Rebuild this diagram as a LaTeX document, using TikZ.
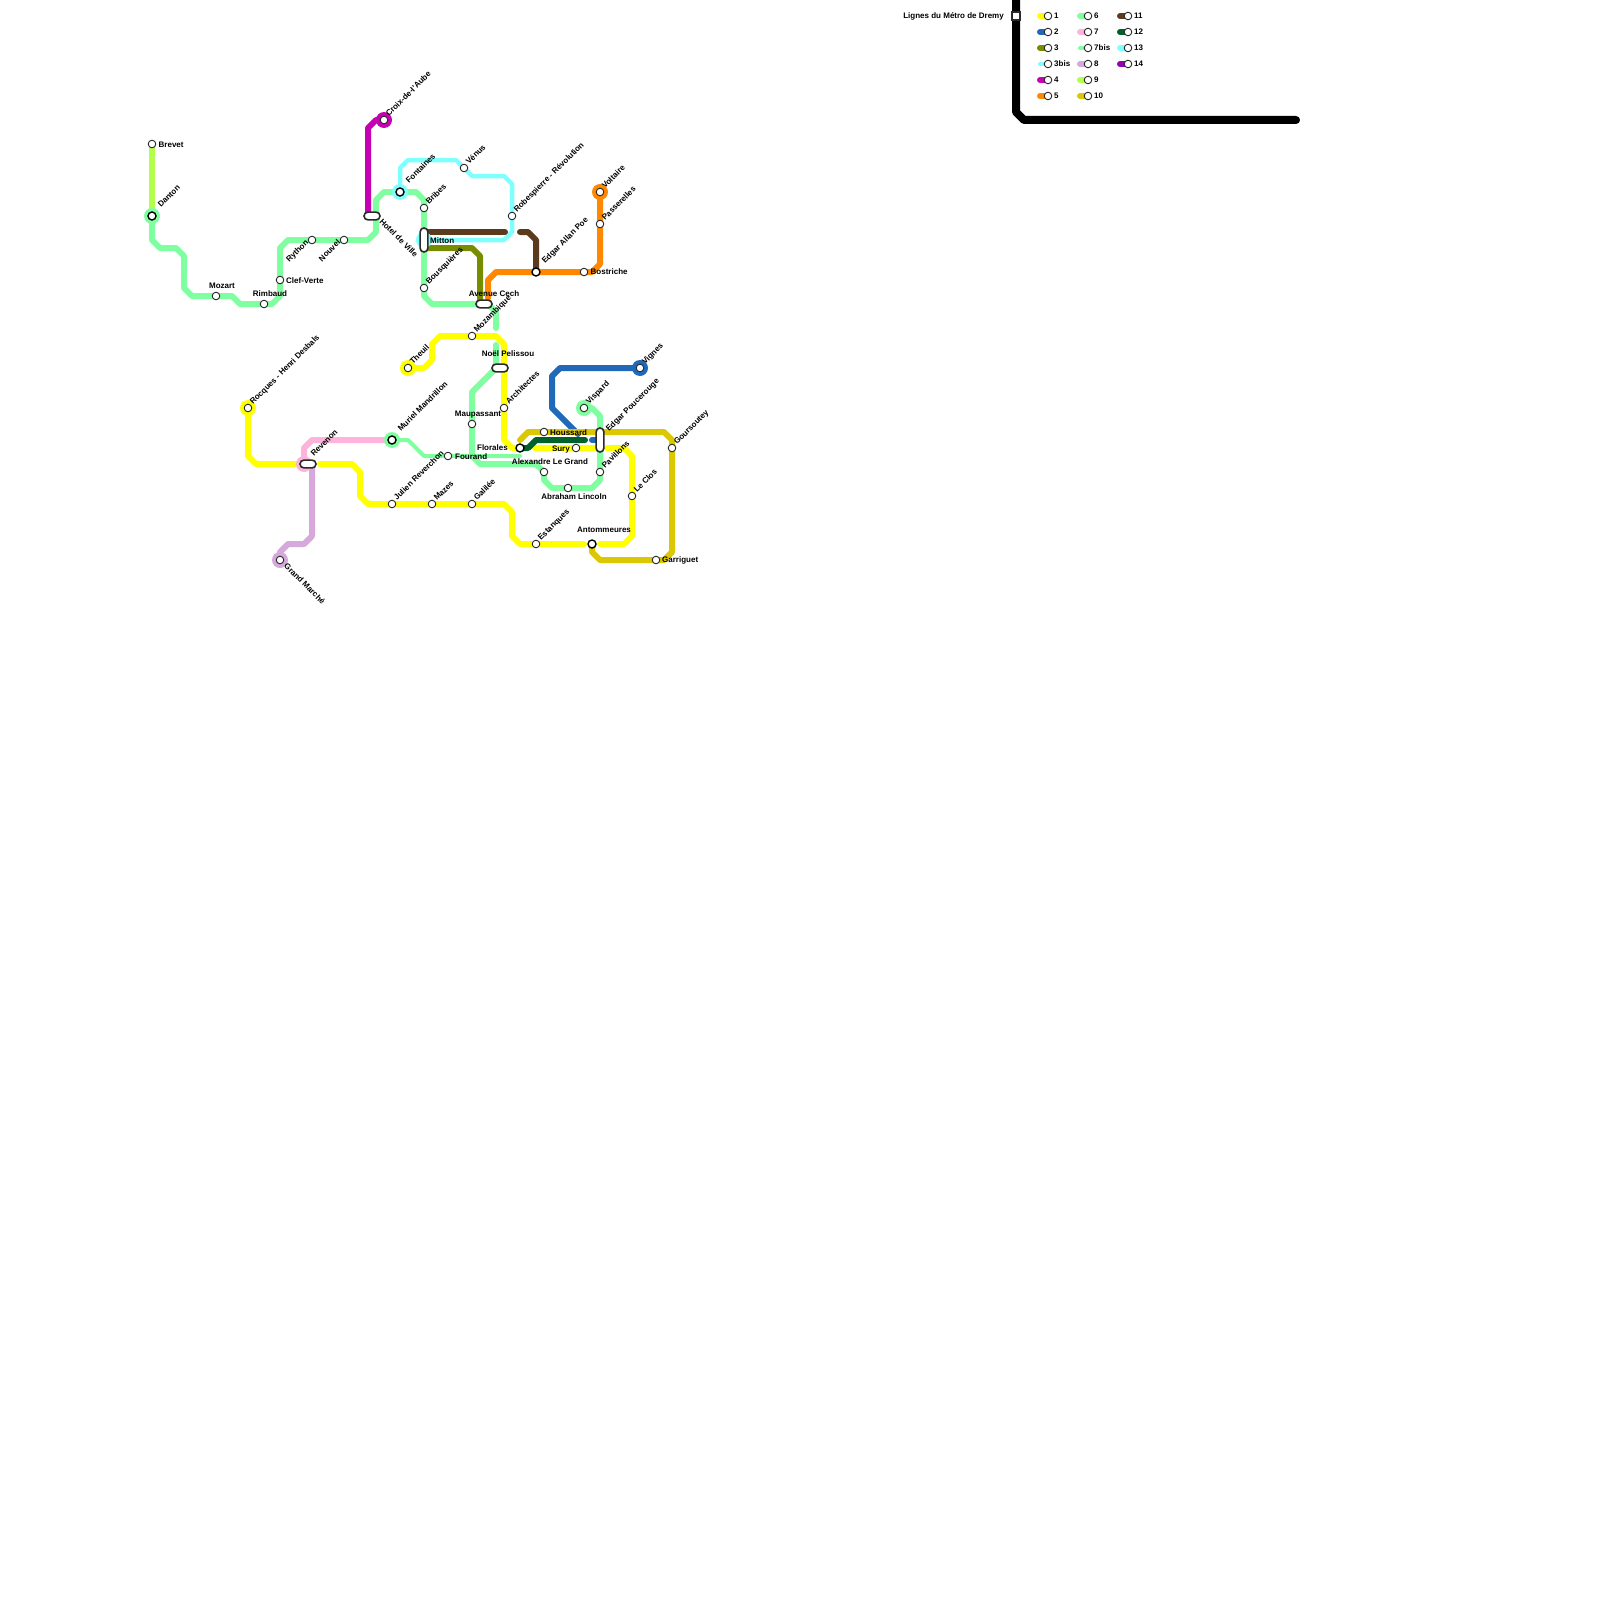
\documentclass[tikz,border=0pt]{standalone}
\usepackage{fontspec}
\setmainfont{Liberation Sans}
\pgfdeclarelayer{bg}
\pgfsetlayers{bg,main}
\definecolor{cA}{HTML}{FFFF00}
\definecolor{cB}{HTML}{1F69B8}
\definecolor{cC}{HTML}{788C00}
\definecolor{cD}{HTML}{80FFFF}
\definecolor{cE}{HTML}{C800B4}
\definecolor{cF}{HTML}{FF8800}
\definecolor{cG}{HTML}{7FFF9F}
\definecolor{cH}{HTML}{FFB3DC}
\definecolor{cI}{HTML}{D6A8DC}
\definecolor{cJ}{HTML}{B3FF4D}
\definecolor{cK}{HTML}{DCC800}
\definecolor{cL}{HTML}{5C3A1E}
\definecolor{cM}{HTML}{00602A}
\definecolor{cN}{HTML}{9000B4}
\definecolor{stk}{HTML}{2A2A2A}
\tikzset{
 st/.style={circle,draw=stk,fill=white,line width=0.9pt,minimum size=7.6pt,inner sep=0pt},
 stx/.style={circle,draw=black,fill=white,line width=1.4pt,minimum size=8pt,inner sep=0pt},
 caph/.style={rectangle,rounded corners=3.9pt,draw=stk,fill=white,line width=1.6pt,minimum width=16pt,minimum height=7.8pt,inner sep=0pt},
 capv/.style={rectangle,rounded corners=3.9pt,draw=stk,fill=white,line width=1.6pt,minimum width=7.8pt,minimum height=24pt,inner sep=0pt},
 sq/.style={rectangle,draw=stk,fill=white,line width=1.2pt,minimum size=8pt,inner sep=0pt},
 lab/.style={inner sep=0pt,font=\fontsize{8}{9.6}\selectfont\bfseries,text=black},
 lu/.style={lab,rotate=45,anchor=base west},
 ld/.style={lab,rotate=-45,anchor=base west},
 lr/.style={lab,rotate=45,anchor=base east},
 lw/.style={lab,anchor=base west},
 lc/.style={lab,anchor=base},
 le/.style={lab,anchor=base east},
 ln/.style={line width=6pt,line cap=round,line join=round},
 lnt/.style={line width=4pt,line cap=round,line join=round},
 halo/.style={circle,minimum size=16pt,inner sep=0pt},
}
\newcommand{\legitem}[5]{% x y color width text
 \node[st] (L#1#2) at (#1,#2) {};
 \begin{pgfonlayer}{bg}\draw[#3,line width=#4,line cap=round] ([xshift=-8pt]L#1#2.center) -- (L#1#2.center);\end{pgfonlayer}
 \node[lw] at ([xshift=6pt,yshift=-2.5pt]L#1#2.center) {#5};
}
\begin{document}
\begin{tikzpicture}[x=1pt,y=-1pt]
\useasboundingbox (0,0) rectangle (1600,1600);
% stations
\node[st] (brevet) at (152,144) {};
\node[stx] (danton) at (152,216) {};
\node[st] (mozart) at (216,296) {};
\node[st] (rimbaud) at (264,304) {};
\node[st] (clef) at (280,280) {};
\node[st] (rython) at (312,240) {};
\node[st] (nouvel) at (344,240) {};
\node[caph] (hotel) at (372,216) {};
\node[st] (croix) at (384,120) {};
\node[stx] (fontaines) at (400,192) {};
\node[st] (bribes) at (424,208) {};
\node[capv] (mitton) at (424,240) {};
\node[st] (bousq) at (424,288) {};
\node[st] (venus) at (464,168) {};
\node[st] (robes) at (512,216) {};
\node[st] (voltaire) at (600,192) {};
\node[st] (passer) at (600,224) {};
\node[st] (bostriche) at (584,272) {};
\node[stx] (poe) at (536,272) {};
\node[caph] (cech) at (484,304) {};
\node[st] (mozamb) at (472,336) {};
\node[st] (theuil) at (408,368) {};
\node[caph] (noel) at (500,368) {};
\node[st] (vignes) at (640,368) {};
\node[st] (rocques) at (248,408) {};
\node[caph] (revenon) at (308,464) {};
\node[stx] (muriel) at (392,440) {};
\node[st] (fourand) at (448,456) {};
\node[st] (julien) at (392,504) {};
\node[st] (mazes) at (432,504) {};
\node[st] (galilee) at (472,504) {};
\node[st] (grand) at (280,560) {};
\node[st] (maup) at (472,424) {};
\node[st] (archi) at (504,408) {};
\node[stx] (florales) at (520,448) {};
\node[st] (houssard) at (544,432) {};
\node[st] (sury) at (576,448) {};
\node[capv] (pouce) at (600,440) {};
\node[st] (visard) at (584,408) {};
\node[st] (alex) at (544,472) {};
\node[st] (abraham) at (568,488) {};
\node[st] (pavillons) at (600,472) {};
\node[st] (clos) at (632,496) {};
\node[st] (estanques) at (536,544) {};
\node[stx] (antomm) at (592,544) {};
\node[st] (garriguet) at (656,560) {};
\node[st] (gours) at (672,448) {};
\node[sq] (titre) at (1016,16) {};
% free ends
\coordinate (g1) at (496,328); \coordinate (g2) at (496,345);
\coordinate (g3) at (520,456);
\coordinate (b1) at (578,434); \coordinate (b2) at (592,440);
\coordinate (m1) at (505,232); \coordinate (m2) at (520,232);
\coordinate (y1) at (516,448); \coordinate (y2) at (535,448); \coordinate (y3) at (595,448);
\coordinate (y4) at (607,448); \coordinate (y5) at (600,544); \coordinate (y6) at (584,544);
\coordinate (y7) at (320,464); \coordinate (y8) at (300,464);
\coordinate (d1) at (520,440); \coordinate (dk) at (585,440);
\coordinate (o1) at (488,298);
\coordinate (blk1) at (1016,-8); \coordinate (blk2) at (1296,120);
\begin{pgfonlayer}{bg}
% line 6 and 7bis
\draw[ln,cG] (danton.center) -- (152,240) -- (160,248) -- (176,248) -- (184,256) -- (184,288) -- (192,296) -- (232,296) -- (240,304) -- (272,304) -- (280,296) -- (280,248) -- (288,240) -- (368,240) -- (376,232) -- (376,200) -- (384,192) -- (416,192) -- (424,200) -- (424,296) -- (432,304) -- (cech.center) -- (488,304) -- (496,312) -- (g1);
\draw[ln,cG] (g2) -- (496,368) -- (472,392) -- (472,456) -- (480,464) -- (536,464) -- (544,472) -- (544,480) -- (552,488) -- (592,488) -- (600,480) -- (600,416) -- (592,408) -- (visard.center);
\draw[lnt,cG] (muriel.center) -- (408,440) -- (424,456) -- (g3);
% line 9
\draw[ln,cJ] (brevet.center) -- (danton.center);
% line 13
\draw[lnt,cD,line width=4.5pt] (fontaines.center) -- (400,168) -- (408,160) -- (456,160) -- (464,168) -- (472,176) -- (504,176) -- (512,184) -- (512,232) -- (504,240) -- (mitton.center);
% line 4
\draw[ln,cE] (hotel.center) ++(-4,0) -- (368,128) -- (376,120) -- (croix.center);
% line 3
\draw[ln,cC] (424,248) -- (472,248) -- (480,256) -- (480,304);
% line 11
\draw[ln,cL] (424,232) -- (m1);
\draw[ln,cL] (m2) -- (528,232) -- (536,240) -- (poe.center);
% line 5
\draw[ln,cF] (o1) -- (488,280) -- (496,272) -- (592,272) -- (600,264) -- (voltaire.center);
% line 1
\draw[ln,cA] (theuil.center) -- (424,368) -- (432,360) -- (432,344) -- (440,336) -- (496,336) -- (504,344) -- (504,440) -- (512,448) -- (y1);
\draw[ln,cA] (y2) -- (y3);
\draw[ln,cA] (y4) -- (624,448) -- (632,456) -- (632,536) -- (624,544) -- (y5);
\draw[ln,cA] (y6) -- (520,544) -- (512,536) -- (512,512) -- (504,504) -- (368,504) -- (360,496) -- (360,472) -- (352,464) -- (y7);
\draw[ln,cA] (y8) -- (256,464) -- (248,456) -- (rocques.center);
% line 7
\draw[ln,cH] (muriel.center) -- (312,440) -- (304,448) -- (304,464);
% line 8
\draw[ln,cI] (312,464) -- (312,536) -- (304,544) -- (288,544) -- (280,552) -- (grand.center);
% line 2
\draw[ln,cB] (vignes.center) -- (560,368) -- (552,376) -- (552,408) -- (b1);
\draw[ln,cB] (b2) -- (pouce.center);
% line 10
\draw[ln,cK] (d1) -- (528,432) -- (664,432) -- (672,440) -- (672,552) -- (664,560) -- (600,560) -- (592,552) -- (antomm.center);
% line 12
\draw[ln,cM] (florales.center) -- (528,448) -- (536,440) -- (dk);
% frame
\draw[black,line width=8pt,line join=round,line cap=round] (blk1) -- (1016,112) -- (1024,120) -- (blk2);
% halos
\node[halo,fill=cG] at (danton.center) {};
\node[halo,fill=cE] at (croix.center) {};
\node[halo,fill=cD] at (fontaines.center) {};
\node[halo,fill=cD] at (mitton.center) {};
\node[halo,fill=cF] at (voltaire.center) {};
\node[halo,fill=cB] at (vignes.center) {};
\node[halo,fill=cA] at (theuil.center) {};
\node[halo,fill=cA] at (rocques.center) {};
\node[halo,fill=cH] at (304,464) {};
\node[halo,fill=cG] at (muriel.center) {};
\node[halo,fill=cG] at (visard.center) {};
\node[halo,fill=cI] at (grand.center) {};
\end{pgfonlayer}
% labels
\node[lw] at ([xshift=6.5pt,yshift=-3pt]brevet.center) {Brevet};
\node[lu] at ([xshift=9pt,yshift=8pt]danton.center) {Danton};
\node[lc] at ([xshift=6pt,yshift=8pt]mozart.center) {Mozart};
\node[lc] at ([xshift=6pt,yshift=8pt]rimbaud.center) {Rimbaud};
\node[lw] at ([xshift=6pt,yshift=-3pt]clef.center) {Clef-Verte};
\node[lr] at ([xshift=-3pt,yshift=-3pt]rython.center) {Rython};
\node[lr] at ([xshift=-3pt,yshift=-3pt]nouvel.center) {Nouvel};
\node[ld] at ([xshift=7pt,yshift=-6pt]hotel.center) {Hotel de Ville};
\node[lu] at ([xshift=5pt,yshift=3pt]croix.center) {Croix-de-l'Aube};
\node[lu] at ([xshift=9pt,yshift=8pt]fontaines.center) {Fontaines};
\node[lu] at ([xshift=5pt,yshift=3pt]bribes.center) {Bribes};
\node[lw] at ([xshift=6pt,yshift=-3pt]mitton.center) {Mitton};
\node[lu] at ([xshift=5pt,yshift=3pt]bousq.center) {Bousquières};
\node[lu] at ([xshift=5pt,yshift=3pt]venus.center) {Vénus};
\node[lu] at ([xshift=5pt,yshift=3pt]robes.center) {Robespierre - Révolution};
\node[lu] at ([xshift=5pt,yshift=3pt]voltaire.center) {Voltaire};
\node[lu] at ([xshift=5pt,yshift=3pt]passer.center) {Passerelles};
\node[lw] at ([xshift=6.5pt,yshift=-2.5pt]bostriche.center) {Bostriche};
\node[lu] at ([xshift=9pt,yshift=8pt]poe.center) {Edgar Allan Poe};
\node[lc] at ([xshift=10pt,yshift=8pt]cech.center) {Avenue Cech};
\node[lu] at ([xshift=5pt,yshift=3pt]mozamb.center) {Mozambique};
\node[lu] at ([xshift=5pt,yshift=3pt]theuil.center) {Theuil};
\node[lc] at ([xshift=8pt,yshift=12pt]noel.center) {Noël Pelissou};
\node[lu] at ([xshift=5pt,yshift=3pt]vignes.center) {Vignes};
\node[lu] at ([xshift=5pt,yshift=3pt]rocques.center) {Rocques - Henri Desbals};
\node[lu] at ([xshift=6pt,yshift=7pt]revenon.center) {Revenon};
\node[lu] at ([xshift=9pt,yshift=8pt]muriel.center) {Muriel Mandrillon};
\node[lw] at ([xshift=7pt,yshift=-3pt]fourand.center) {Fourand};
\node[lu] at ([xshift=5pt,yshift=3pt]julien.center) {Julien Reverchon};
\node[lu] at ([xshift=5pt,yshift=3pt]mazes.center) {Mazes};
\node[lu] at ([xshift=5pt,yshift=3pt]galilee.center) {Galilée};
\node[ld] at ([xshift=3.5pt,yshift=-6.5pt]grand.center) {Grand Marché};
\node[lc] at ([xshift=6pt,yshift=8pt]maup.center) {Maupassant};
\node[lu] at ([xshift=5pt,yshift=3pt]archi.center) {Architectes};
\node[le] at ([xshift=-12pt,yshift=-2pt]florales.center) {Florales};
\node[lw] at ([xshift=6pt,yshift=-3pt]houssard.center) {Houssard};
\node[le] at ([xshift=-6pt,yshift=-3pt]sury.center) {Sury};
\node[lu] at ([xshift=9pt,yshift=8pt]pouce.center) {Edgar Poucerouge};
\node[lu] at ([xshift=5pt,yshift=3pt]visard.center) {Vispard};
\node[lc] at ([xshift=6pt,yshift=8pt]alex.center) {Alexandre Le Grand};
\node[lc] at ([xshift=6pt,yshift=-11pt]abraham.center) {Abraham Lincoln};
\node[lu] at ([xshift=5pt,yshift=3pt]pavillons.center) {Pavillons};
\node[lu] at ([xshift=5pt,yshift=3pt]clos.center) {Le Clos};
\node[lu] at ([xshift=5pt,yshift=3pt]estanques.center) {Estanques};
\node[lc] at ([xshift=12pt,yshift=12pt]antomm.center) {Antommeures};
\node[lw] at ([xshift=6pt,yshift=-2.5pt]garriguet.center) {Garriguet};
\node[lu] at ([xshift=5pt,yshift=3pt]gours.center) {Goursoutey};
\node[le] at ([xshift=-12pt,yshift=-2.5pt]titre.center) {Lignes du Métro de Dremy};
% legend
\legitem{1048}{16}{cA}{6pt}{1}
\legitem{1048}{32}{cB}{6pt}{2}
\legitem{1048}{48}{cC}{6pt}{3}
\legitem{1048}{64}{cD}{4pt}{3bis}
\legitem{1048}{80}{cE}{6pt}{4}
\legitem{1048}{96}{cF}{6pt}{5}
\legitem{1088}{16}{cG}{6pt}{6}
\legitem{1088}{32}{cH}{6pt}{7}
\legitem{1088}{48}{cG}{4pt}{7bis}
\legitem{1088}{64}{cI}{6pt}{8}
\legitem{1088}{80}{cJ}{6pt}{9}
\legitem{1088}{96}{cK}{6pt}{10}
\legitem{1128}{16}{cL}{6pt}{11}
\legitem{1128}{32}{cM}{6pt}{12}
\legitem{1128}{48}{cD}{6pt}{13}
\legitem{1128}{64}{cN}{6pt}{14}
\end{tikzpicture}
\end{document}
